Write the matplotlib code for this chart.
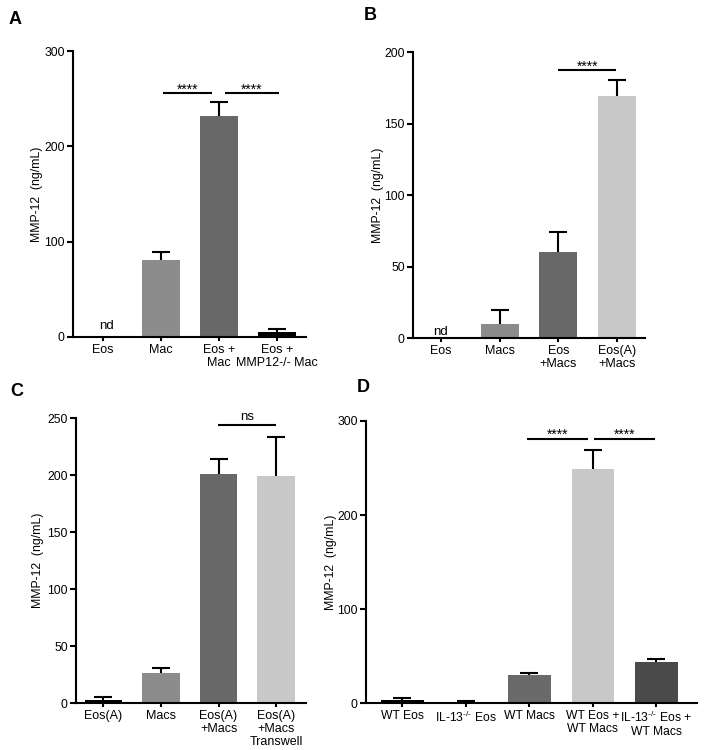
import matplotlib.pyplot as plt
import numpy as np

plt.rcParams['font.family'] = ['Liberation Sans', 'DejaVu Sans']
plt.rcParams['mathtext.fontset'] = 'custom'
plt.rcParams['mathtext.rm'] = 'Liberation Sans'
plt.rcParams['mathtext.it'] = 'Liberation Sans'
nan = float('nan')

# --- data (ng/mL) ---
a_labels = ['Eos', 'Mac', 'Eos +\nMac', 'Eos +\nMMP12-/- Mac']
a_vals = [0, 80.8, 232, 5.6]
a_err = [nan, 8.7, 15, 2.4]
a_cols = ['black', '#8c8c8c', '#686868', '#000000']

b_labels = ['Eos', 'Macs', 'Eos\n+Macs', 'Eos(A)\n+Macs']
b_vals = [0, 10, 60.6, 169.2]
b_err = [nan, 9.8, 13.5, 11.4]
b_cols = ['black', '#8c8c8c', '#686868', '#c8c8c8']

c_labels = ['Eos(A)', 'Macs', 'Eos(A)\n+Macs', 'Eos(A)\n+Macs\nTranswell']
c_vals = [2.6, 26.8, 200.9, 199.4]
c_err = [2.9, 4.4, 13.4, 34.5]
c_cols = ['#000000', '#8c8c8c', '#686868', '#c8c8c8']

d_labels = ['WT Eos', r'IL-13$^{\text{-/-}}$ Eos', 'WT Macs', 'WT Eos +\nWT Macs',
            'IL-13$^{\\text{-/-}}$ Eos +\nWT Macs']
d_vals = [3.9, 0.7, 29.8, 248.7, 44.3]
d_err = [2.1, 1.8, 2.8, 20.2, 2.5]
d_cols = ['#000000', '#000000', '#6a6a6a', '#c8c8c8', '#4a4a4a']

fig = plt.figure(figsize=(7.05, 7.5), dpi=100)


def panel(rect, labels, vals, err, cols, ymax, ystep, xlim, width, ylab_x, xfs=9):
    ax = fig.add_axes(rect)
    x = np.arange(len(vals))
    ax.bar(x, vals, width=width, color=cols, zorder=2)
    eb = ax.errorbar(x, vals, yerr=[np.zeros(len(vals)), err], fmt='none',
                     ecolor='black', elinewidth=1.5, capsize=6.8, capthick=1.5, zorder=3)
    eb[1][0].set_visible(False)  # only the upper cap
    ax.set_xlim(*xlim)
    ax.set_ylim(0, ymax)
    ax.set_yticks(np.arange(0, ymax + 1, ystep))
    ax.set_xticks(x)
    ax.set_xticklabels(labels, fontsize=xfs, linespacing=1.1)
    ax.tick_params(axis='y', labelsize=8.8, width=1.5, length=4, pad=2)
    ax.tick_params(axis='x', width=1.5, length=3, pad=2)
    for s in ['top', 'right']:
        ax.spines[s].set_visible(False)
    for s in ['left', 'bottom']:
        ax.spines[s].set_linewidth(1.5)
    ax.set_ylabel('MMP-12  (ng/mL)', fontsize=8.8)
    ax.yaxis.set_label_coords(ylab_x, 0.5)
    return ax


def sig(ax, x0, x1, y, ty, txt, size=10):
    ax.plot([x0, x1], [y, y], color='black', lw=1.5, solid_capstyle='butt', clip_on=False)
    ax.text((x0 + x1) / 2, ty, txt, ha='center', va='center', fontsize=size)


axA = panel([0.1035, 0.5507, 0.3305, 0.3813], a_labels, a_vals, a_err, a_cols,
            300, 100, (-0.517, 3.5), 0.655, -0.13)
axA.text(0.07, 11.5, 'nd', ha='center', va='center', fontsize=9.5)
sig(axA, 1.03, 1.88, 255.6, 259, '****')
sig(axA, 2.10, 3.03, 255.6, 259, '****')

axB = panel([0.5858, 0.5489, 0.329, 0.3813], b_labels, b_vals, b_err, b_cols,
            200, 50, (-0.477, 3.475), 0.65, -0.125)
axB.text(0.0, 4.4, 'nd', ha='center', va='center', fontsize=9.5)
sig(axB, 2.0, 2.99, 187.6, 190, '****')

axC = panel([0.1078, 0.0623, 0.3262, 0.38], c_labels, c_vals, c_err, c_cols,
            250, 50, (-0.478, 3.52), 0.65, -0.14)
sig(axC, 1.99, 3.0, 244, 251, 'ns', size=9.5)

axD = panel([0.5191, 0.0623, 0.4695, 0.3764], d_labels, d_vals, d_err, d_cols,
            300, 100, (-0.575, 4.64), 0.67, -0.086, xfs=8.7)
sig(axD, 1.96, 2.92, 280.5, 285, '****')
sig(axD, 3.02, 3.98, 280.5, 285, '****')

for lab, (px, py) in zip('ABCD', [(9, 20), (364, 16), (10, 392), (357, 388)]):
    fig.text(px / 705, 1 - py / 750, lab, fontsize=13, fontweight='bold',
             ha='left', va='center')

fig.savefig('out.png', dpi=100)
